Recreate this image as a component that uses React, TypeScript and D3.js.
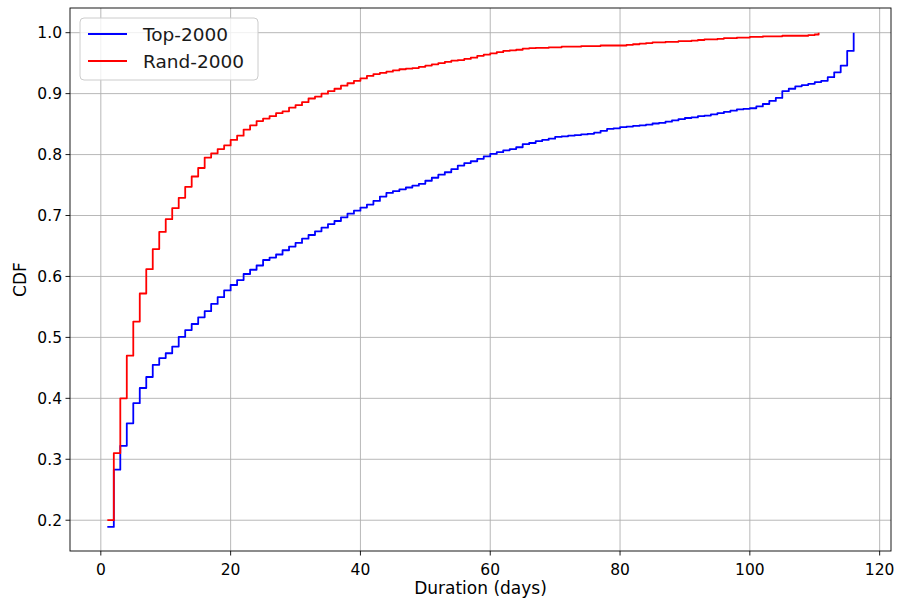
import React from "react";
import * as d3 from "d3";

const topDays: number[] = Array.from({ length: 116 }, (_, i) => i + 1);
const topCdf: number[] = [
  0.189, 0.283, 0.322, 0.359, 0.392, 0.417, 0.435, 0.455, 0.466, 0.474,
  0.485, 0.501, 0.512, 0.522, 0.533, 0.543, 0.555, 0.566, 0.577, 0.586,
  0.594, 0.604, 0.611, 0.618, 0.627, 0.631, 0.636, 0.643, 0.649, 0.655,
  0.662, 0.668, 0.674, 0.680, 0.686, 0.691, 0.697, 0.703, 0.708, 0.713,
  0.718, 0.724, 0.731, 0.737, 0.740, 0.743, 0.746, 0.749, 0.752, 0.757,
  0.762, 0.767, 0.771, 0.776, 0.782, 0.786, 0.789, 0.793, 0.797, 0.801,
  0.804, 0.807, 0.809, 0.812, 0.817, 0.819, 0.822, 0.824, 0.826, 0.829,
  0.830, 0.831, 0.832, 0.833, 0.834, 0.836, 0.839, 0.842, 0.843, 0.845,
  0.846, 0.847, 0.848, 0.849, 0.851, 0.852, 0.854, 0.856, 0.858, 0.860,
  0.861, 0.863, 0.864, 0.866, 0.868, 0.870, 0.872, 0.874, 0.875, 0.876,
  0.879, 0.883, 0.888, 0.893, 0.904, 0.908, 0.912, 0.914, 0.916, 0.919,
  0.921, 0.927, 0.935, 0.946, 0.970, 1.0,
];

const randDays: number[] = [...Array.from({ length: 110 }, (_, i) => i + 1), 110.6];
const randCdf: number[] = [
  0.200, 0.310, 0.400, 0.470, 0.526, 0.572, 0.612, 0.645, 0.673, 0.694,
  0.712, 0.729, 0.747, 0.764, 0.778, 0.795, 0.802, 0.809, 0.815, 0.824,
  0.831, 0.841, 0.848, 0.855, 0.859, 0.863, 0.868, 0.871, 0.877, 0.881,
  0.886, 0.892, 0.895, 0.900, 0.904, 0.908, 0.913, 0.917, 0.921, 0.925,
  0.929, 0.932, 0.934, 0.936, 0.938, 0.940, 0.941, 0.942, 0.944, 0.946,
  0.948, 0.950, 0.952, 0.954, 0.955, 0.957, 0.959, 0.962, 0.964, 0.966,
  0.968, 0.970, 0.971, 0.972, 0.974, 0.9745, 0.975, 0.975, 0.976, 0.976,
  0.977, 0.977, 0.977, 0.978, 0.978, 0.978, 0.979, 0.979, 0.979, 0.979,
  0.980, 0.981, 0.982, 0.983, 0.984, 0.984, 0.985, 0.985, 0.986, 0.986,
  0.987, 0.988, 0.989, 0.989, 0.990, 0.991, 0.991, 0.992, 0.992, 0.993,
  0.993, 0.994, 0.994, 0.994, 0.995, 0.995, 0.995, 0.995, 0.996, 0.997,
  1.0,
];

const xTicks: number[] = [0, 20, 40, 60, 80, 100, 120];
const yTicks: number[] = [0.2, 0.3, 0.4, 0.5, 0.6, 0.7, 0.8, 0.9, 1.0];
const seriesNames: string[] = ["Top-2000", "Rand-2000"];
const seriesColors: string[] = ["#0000ff", "#ff0000"];

const W = 897;
const H = 600;
const M = { left: 70, right: 891, top: 8, bottom: 551 };
const FONT = "DejaVu Sans, sans-serif";

export default function App() {
  const x = d3.scaleLinear().domain([-4.75, 121.75]).range([M.left, M.right]);
  const y = d3.scaleLinear().domain([0.1495, 1.0405]).range([M.bottom, M.top]);

  const line = d3
    .line<[number, number]>()
    .x((d) => x(d[0]))
    .y((d) => y(d[1]))
    .curve(d3.curveStepAfter);

  const series: [number, number][][] = [
    topDays.map((d, i) => [d, topCdf[i]] as [number, number]),
    randDays.map((d, i) => [d, randCdf[i]] as [number, number]),
  ];

  return (
    <svg
      width={W}
      height={H}
      style={{ position: "absolute", left: 0, top: 0, background: "#fff" }}
      fontFamily={FONT}
    >
      <rect x={0} y={0} width={W} height={H} fill="#fff" />
      <g stroke="#b0b0b0" strokeWidth={0.9}>
        {xTicks.map((t) => (
          <line key={"gx" + t} x1={x(t)} x2={x(t)} y1={M.top} y2={M.bottom} />
        ))}
        {yTicks.map((t) => (
          <line key={"gy" + t} x1={M.left} x2={M.right} y1={y(t)} y2={y(t)} />
        ))}
      </g>
      {series.map((s, i) => (
        <path
          key={i}
          d={line(s) || ""}
          fill="none"
          stroke={seriesColors[i]}
          strokeWidth={1.8}
          strokeLinejoin="round"
        />
      ))}
      <rect
        x={M.left}
        y={M.top}
        width={M.right - M.left}
        height={M.bottom - M.top}
        fill="none"
        stroke="#000"
        strokeWidth={0.9}
      />
      {xTicks.map((t) => (
        <g key={"xt" + t}>
          <line x1={x(t)} x2={x(t)} y1={M.bottom} y2={M.bottom + 4.5} stroke="#000" strokeWidth={0.9} />
          <text x={x(t)} y={M.bottom + 24} textAnchor="middle" fontSize={15.5} fill="#000">
            {t}
          </text>
        </g>
      ))}
      {yTicks.map((t) => (
        <g key={"yt" + t}>
          <line x1={M.left - 4.5} x2={M.left} y1={y(t)} y2={y(t)} stroke="#000" strokeWidth={0.9} />
          <text x={M.left - 8} y={y(t) + 5.5} textAnchor="end" fontSize={15.5} fill="#000">
            {t.toFixed(1)}
          </text>
        </g>
      ))}
      <text x={(M.left + M.right) / 2} y={594} textAnchor="middle" fontSize={17} fill="#000">
        Duration (days)
      </text>
      <text
        transform={`translate(26,${(M.top + M.bottom) / 2}) rotate(-90)`}
        textAnchor="middle"
        fontSize={17}
        fill="#000"
      >
        CDF
      </text>
      <g>
        <rect x={80} y={18} width={178} height={62} rx={4} fill="#fff" fillOpacity={0.8} stroke="#cccccc" strokeWidth={1} />
        {seriesNames.map((n, i) => (
          <g key={n}>
            <line x1={88} x2={127} y1={34 + i * 27} y2={34 + i * 27} stroke={seriesColors[i]} strokeWidth={1.8} />
            <text x={143} y={41 + i * 27} fontSize={18.5} fill="#1a1a1a">
              {n}
            </text>
          </g>
        ))}
      </g>
    </svg>
  );
}
